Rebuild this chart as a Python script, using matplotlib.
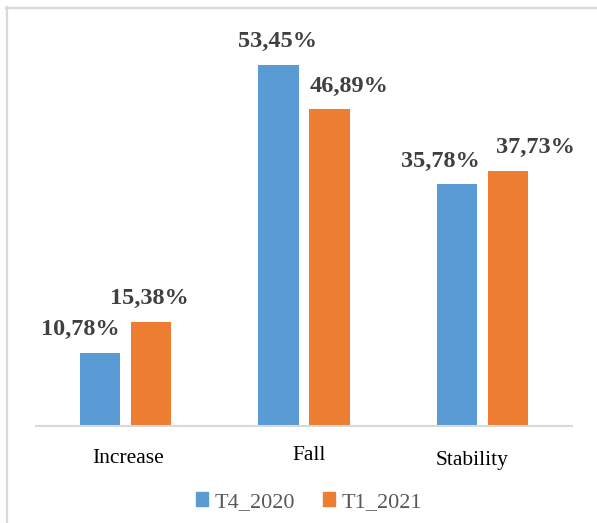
import matplotlib
matplotlib.use("Agg")
import matplotlib.pyplot as plt
from matplotlib.lines import Line2D
import numpy as np

categories = ["Increase", "Fall", "Stability"]
series_names = ["T4_2020", "T1_2021"]
t4_2020 = [10.78, 53.45, 35.78]
t1_2021 = [15.38, 46.89, 37.73]
colors = ["#5B9BD5", "#ED7D31"]

# horizontal nudges (pixels) for value labels so neighbouring labels don't collide
label_dx = [[-19.5, -1.0, -17.0], [-1.0, 19.5, 27.5]]
# category label nudges (pixels)
cat_dx = [2.5, 5.5, -11.0]
cat_dy = [0.0, 3.0, -2.0]

W, H, DPI = 597, 523, 100
fig = plt.figure(figsize=(W / DPI, H / DPI), dpi=DPI)
fig.patch.set_facecolor("white")

# light frame around the chart area
fig.add_artist(Line2D([7 / W, 7 / W], [0, 1 - 7 / H], transform=fig.transFigure,
                      color="#d9d9d9", lw=1.6))
fig.add_artist(Line2D([6 / W, 1], [1 - 8 / H, 1 - 8 / H], transform=fig.transFigure,
                      color="#d9d9d9", lw=1.6))

ax_left, ax_right = 36 / W, 572 / W
ax_bottom = (H - 426) / H
ax_height = 405 / H
ax = fig.add_axes([ax_left, ax_bottom, ax_right - ax_left, ax_height])
ax.set_xlim(-0.5, 2.5)
ax.set_ylim(0, 60)

x = np.arange(len(categories))
bw = 0.224
off = 0.1427
serif = ["Liberation Serif", "DejaVu Serif"]

for i, (vals, col) in enumerate(zip([t4_2020, t1_2021], colors)):
    xs = x + (-off if i == 0 else off)
    ax.bar(xs, vals, width=bw, color=col, zorder=2)
    for j, (xx, v) in enumerate(zip(xs, vals)):
        ax.annotate(f"{v:.2f}%".replace(".", ","), (xx, v),
                    xytext=(label_dx[i][j], 13), textcoords="offset pixels",
                    ha="center", va="bottom", fontsize=17.5, fontweight="bold",
                    color="#404040", family=serif)

for s in ["top", "right", "left"]:
    ax.spines[s].set_visible(False)
ax.spines["bottom"].set_color("#d9d9d9")
ax.spines["bottom"].set_linewidth(1.5)
ax.set_yticks([])
ax.set_xticks([])

for j, c in enumerate(categories):
    ax.annotate(c, (x[j], 0), xytext=(cat_dx[j], -37 + cat_dy[j]),
                textcoords="offset pixels", ha="center", va="baseline",
                fontsize=15.5, color="#000000", family=serif,
                annotation_clip=False)

handles = [plt.Rectangle((0, 0), 1, 1, color=c) for c in colors]
fig.legend(handles, series_names, loc="center", bbox_to_anchor=(309 / W, 1 - 502 / H),
           ncol=2, frameon=False, handlelength=0.55, handleheight=0.55,
           handletextpad=0.3, columnspacing=1.25,
           prop={"family": serif, "size": 16}, labelcolor="#595959")

fig.savefig("out.png", dpi=DPI, facecolor="white")
